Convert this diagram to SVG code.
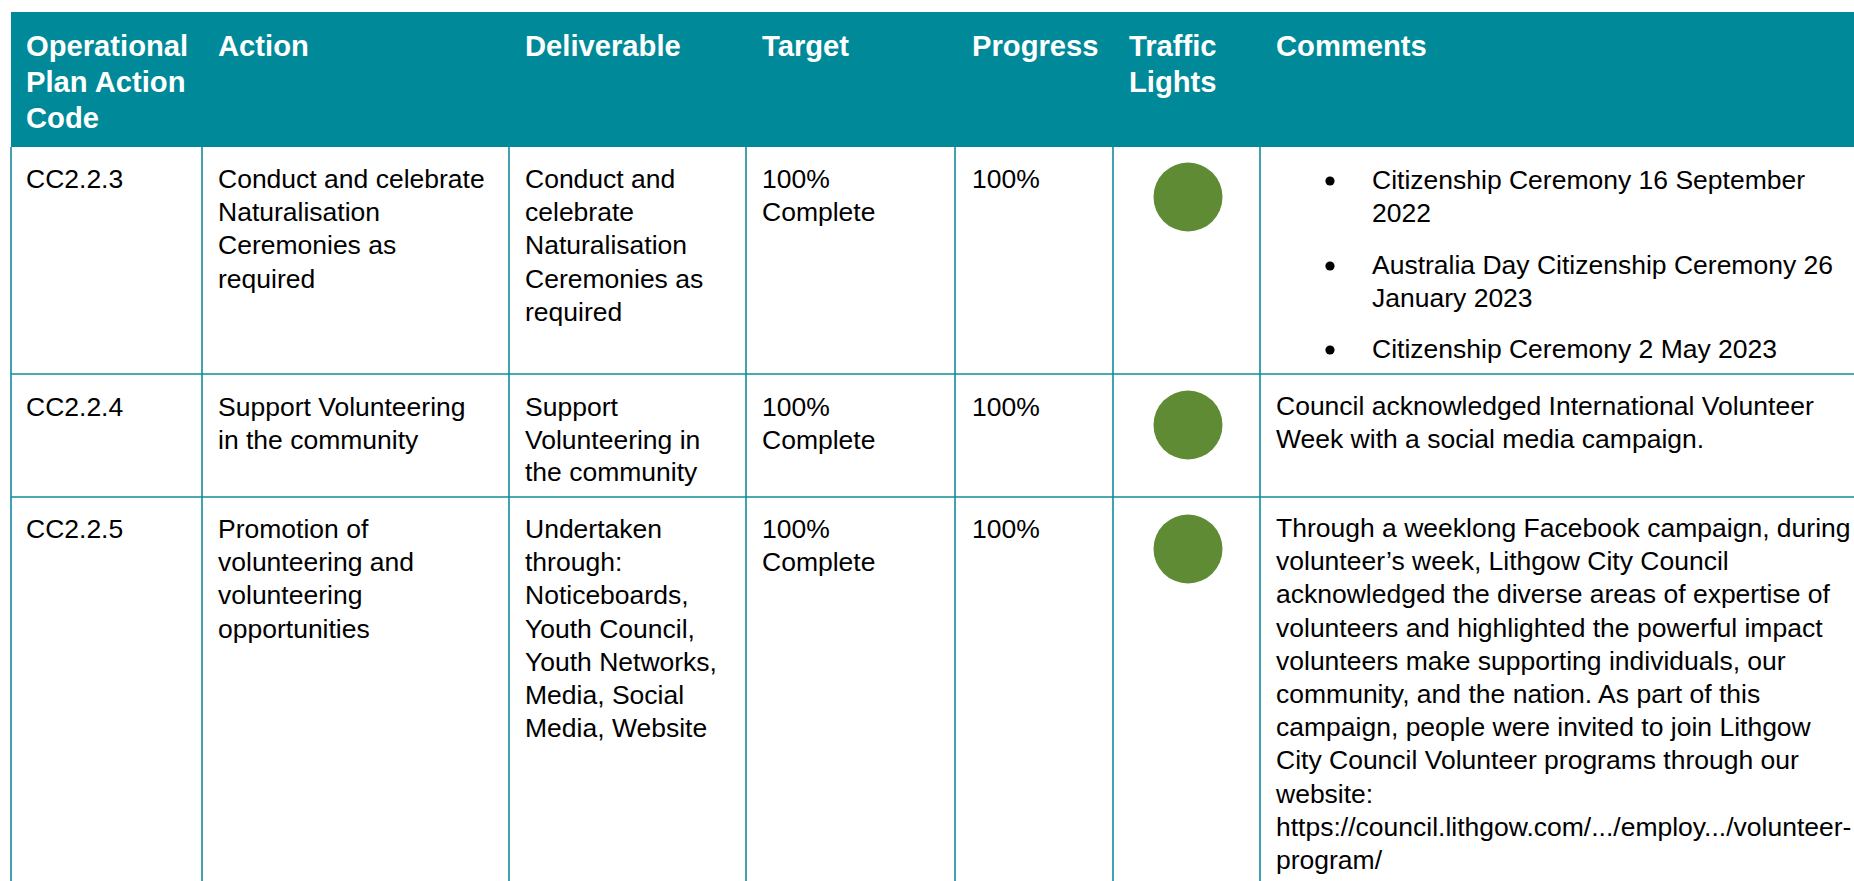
<svg xmlns="http://www.w3.org/2000/svg" width="1854" height="881" viewBox="0 0 1854 881">
<style>
.h{font-family:"Liberation Sans",Arial,sans-serif;font-weight:bold;font-size:29.2px;fill:#ffffff}
.t{font-family:"Liberation Sans",Arial,sans-serif;font-size:26.5px;fill:#000000}
.g{stroke:#118C9B;stroke-width:1.6;fill:none}
.dot{fill:#5F8B35}
.b{fill:#000000}
</style>
<rect width="1854" height="881" fill="#ffffff"/>
<g id="header">
<rect x="11" y="12" width="1843" height="135" fill="#008A99"/>
<text class="h"><tspan x="26" y="56">Operational</tspan><tspan x="26" y="92">Plan Action</tspan><tspan x="26" y="128">Code</tspan></text>
<text class="h" x="218" y="56">Action</text>
<text class="h" x="525" y="56">Deliverable</text>
<text class="h" x="762" y="56">Target</text>
<text class="h" x="972" y="56">Progress</text>
<text class="h"><tspan x="1129" y="56">Traffic</tspan><tspan x="1129" y="92">Lights</tspan></text>
<text class="h" x="1276" y="56">Comments</text>
</g>
<g id="grid">
<line class="g" x1="11" y1="147" x2="11" y2="881"/>
<line class="g" x1="202" y1="147" x2="202" y2="881"/>
<line class="g" x1="509" y1="147" x2="509" y2="881"/>
<line class="g" x1="746" y1="147" x2="746" y2="881"/>
<line class="g" x1="955" y1="147" x2="955" y2="881"/>
<line class="g" x1="1113" y1="147" x2="1113" y2="881"/>
<line class="g" x1="1260" y1="147" x2="1260" y2="881"/>
<line class="g" x1="11" y1="374" x2="1854" y2="374"/>
<line class="g" x1="11" y1="497" x2="1854" y2="497"/>
</g>
<g id="row1">
<text class="t" x="26" y="188">CC2.2.3</text>
<text class="t"><tspan x="218" y="188">Conduct and celebrate</tspan><tspan x="218" y="221.2">Naturalisation</tspan><tspan x="218" y="254.4">Ceremonies as</tspan><tspan x="218" y="287.6">required</tspan></text>
<text class="t"><tspan x="525" y="188">Conduct and</tspan><tspan x="525" y="221.2">celebrate</tspan><tspan x="525" y="254.4">Naturalisation</tspan><tspan x="525" y="287.6">Ceremonies as</tspan><tspan x="525" y="320.8">required</tspan></text>
<text class="t"><tspan x="762" y="188">100%</tspan><tspan x="762" y="221.2">Complete</tspan></text>
<text class="t" x="972" y="188">100%</text>
<ellipse class="dot" cx="1188" cy="197" rx="34.5" ry="34.5"/>
<circle class="b" cx="1330" cy="181" r="4.6"/>
<circle class="b" cx="1330" cy="266" r="4.6"/>
<circle class="b" cx="1330" cy="350" r="4.6"/>
<text class="t"><tspan x="1372" y="189">Citizenship Ceremony 16 September</tspan><tspan x="1372" y="222">2022</tspan></text>
<text class="t"><tspan x="1372" y="274">Australia Day Citizenship Ceremony 26</tspan><tspan x="1372" y="307">January 2023</tspan></text>
<text class="t" x="1372" y="358">Citizenship Ceremony 2 May 2023</text>
</g>
<g id="row2">
<text class="t" x="26" y="416">CC2.2.4</text>
<text class="t"><tspan x="218" y="416">Support Volunteering</tspan><tspan x="218" y="448.5">in the community</tspan></text>
<text class="t"><tspan x="525" y="416">Support</tspan><tspan x="525" y="448.5">Volunteering in</tspan><tspan x="525" y="481">the community</tspan></text>
<text class="t"><tspan x="762" y="416">100%</tspan><tspan x="762" y="448.5">Complete</tspan></text>
<text class="t" x="972" y="416">100%</text>
<circle class="dot" cx="1188" cy="425" r="34.5"/>
<text class="t"><tspan x="1276" y="415">Council acknowledged International Volunteer</tspan><tspan x="1276" y="447.5">Week with a social media campaign.</tspan></text>
</g>
<g id="row3">
<text class="t" x="26" y="538">CC2.2.5</text>
<text class="t"><tspan x="218" y="538">Promotion of</tspan><tspan x="218" y="571.2">volunteering and</tspan><tspan x="218" y="604.4">volunteering</tspan><tspan x="218" y="637.6">opportunities</tspan></text>
<text class="t"><tspan x="525" y="538">Undertaken</tspan><tspan x="525" y="571.2">through:</tspan><tspan x="525" y="604.4">Noticeboards,</tspan><tspan x="525" y="637.6">Youth Council,</tspan><tspan x="525" y="670.8">Youth Networks,</tspan><tspan x="525" y="704">Media, Social</tspan><tspan x="525" y="737.2">Media, Website</tspan></text>
<text class="t"><tspan x="762" y="538">100%</tspan><tspan x="762" y="571.2">Complete</tspan></text>
<text class="t" x="972" y="538">100%</text>
<circle class="dot" cx="1188" cy="549" r="34.5"/>
<text class="t"><tspan x="1276" y="537">Through a weeklong Facebook campaign, during</tspan><tspan x="1276" y="570.2">volunteer’s week, Lithgow City Council</tspan><tspan x="1276" y="603.4">acknowledged the diverse areas of expertise of</tspan><tspan x="1276" y="636.6">volunteers and highlighted the powerful impact</tspan><tspan x="1276" y="669.8">volunteers make supporting individuals, our</tspan><tspan x="1276" y="703">community, and the nation. As part of this</tspan><tspan x="1276" y="736.2">campaign, people were invited to join Lithgow</tspan><tspan x="1276" y="769.4">City Council Volunteer programs through our</tspan><tspan x="1276" y="802.6">website:</tspan><tspan x="1276" y="835.8">https://council.lithgow.com/.../employ.../volunteer-</tspan><tspan x="1276" y="869">program/</tspan></text>
</g>
</svg>
